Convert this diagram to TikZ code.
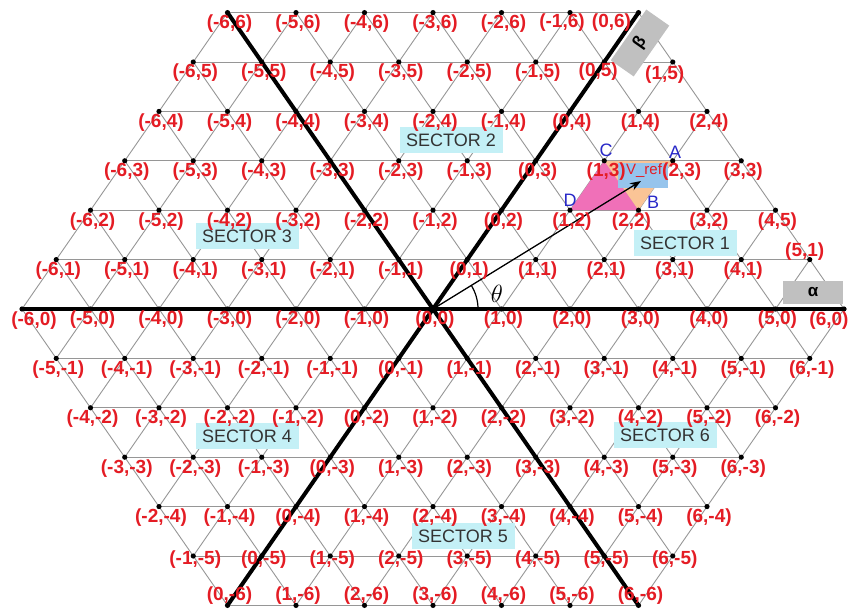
\documentclass[tikz,border=0pt]{standalone}
\usepackage{fontspec}
\setmainfont{Liberation Sans}
\usetikzlibrary{arrows.meta}
\definecolor{lblred}{RGB}{228,28,36}
\definecolor{gridgray}{RGB}{150,150,150}
\definecolor{sectorbg}{RGB}{196,240,246}
\definecolor{pinkfill}{RGB}{240,112,184}
\definecolor{orangefill}{RGB}{250,196,150}
\definecolor{vrefblue}{RGB}{150,196,236}
\definecolor{abcdblue}{RGB}{40,40,200}
\definecolor{boxgray}{RGB}{192,192,192}
% label offsets (dx,dy) in px, y downwards
\expandafter\def\csname lo@-6@0\endcsname{12,12}
\expandafter\def\csname lo@6@0\endcsname{-15,12}
\expandafter\def\csname lo@0@6\endcsname{-27,10}
\expandafter\def\csname lo@-1@6\endcsname{-8,10}
\expandafter\def\csname lo@0@5\endcsname{-6,10}
\expandafter\def\csname lo@1@5\endcsname{-8,13}
\expandafter\def\csname lo@5@1\endcsname{-5,-8}
\expandafter\def\csname lo@2@3\endcsname{9,11}
\expandafter\def\csname lo@2@2\endcsname{-7,11}
% label texts that differ
\expandafter\def\csname lt@4@2\endcsname{(4,5)}
\tikzset{
  gridline/.style={draw=gridgray, line width=0.9},
  axisline/.style={draw=black, line width=4, line cap=round},
  lbl/.style={text=lblred, font=\bfseries\fontsize{19}{20}\selectfont, inner sep=0},
  sector/.style={fill=sectorbg, text=black!80, font=\fontsize{18}{20}\selectfont,
    minimum width=103, minimum height=26, inner sep=0},
  axisbox/.style={fill=boxgray, text=black, font=\bfseries\fontsize{17}{18}\selectfont,
    inner sep=0},
  vlbl/.style={text=abcdblue, font=\fontsize{18}{20}\selectfont, inner sep=0},
}
\begin{document}
\begin{tikzpicture}[x=1pt,y=-1pt]
\useasboundingbox (0,0) rectangle (849,610);
% grid points
\foreach \b in {-6,...,6}{
  \pgfmathtruncatemacro\amin{max(-6,-6-\b)}
  \pgfmathtruncatemacro\amax{min(6,6-\b)}
  \foreach \a in {\amin,...,\amax}{
    \coordinate (p\a_\b) at ({433+(\a+\b/2)*68.5},{309-\b*49.4});
  }
}
% grid lines
\foreach \b in {-6,...,6}{
  \pgfmathtruncatemacro\amin{max(-6,-6-\b)}
  \pgfmathtruncatemacro\amax{min(6,6-\b)}
  \draw[gridline] (p\amin_\b) -- (p\amax_\b);
}
\foreach \a in {-6,...,6}{
  \pgfmathtruncatemacro\bmin{max(-6,-6-\a)}
  \pgfmathtruncatemacro\bmax{min(6,6-\a)}
  \draw[gridline] (p\a_\bmin) -- (p\a_\bmax);
}
\foreach \c in {-6,...,6}{
  \pgfmathtruncatemacro\amin{max(-6,\c-6)}
  \pgfmathtruncatemacro\amax{min(6,\c+6)}
  \pgfmathtruncatemacro\bA{\c-\amin}
  \pgfmathtruncatemacro\bB{\c-\amax}
  \draw[gridline] (p\amin_\bA) -- (p\amax_\bB);
}
% reference triangles
\fill[pinkfill] (p1_2) -- (p2_2) -- (p1_3) -- cycle;
\fill[orangefill] (p1_3) -- (p2_3) -- (p2_2) -- cycle;
\node[fill=vrefblue, minimum width=50, minimum height=25, inner sep=0] (vbox) at (643,175) {};
\node[text=lblred, font=\fontsize{15}{16}\selectfont, inner sep=0] (vtext) at (644,171) {V\_ref};
% axes
\draw[axisline] (p-6_0) -- (p6_0);
\draw[axisline] (p-6_6) -- (p6_-6);
\draw[axisline] (p0_-6) -- (p0_6);
% reference vector and angle
\coordinate (vref) at (641,181);
\draw[line width=1.3, -{Stealth[length=11pt,width=8pt]}] (p0_0) -- (vref);
\draw[line width=1.2] ([xshift=45]p0_0) arc[start angle=0, end angle=-31.7, radius=45];
\node[font=\fontsize{25}{26}\selectfont, inner sep=0] (theta) at (497,294) {$\theta$};
% dots
\foreach \b in {-6,...,6}{
  \pgfmathtruncatemacro\amin{max(-6,-6-\b)}
  \pgfmathtruncatemacro\amax{min(6,6-\b)}
  \foreach \a in {\amin,...,\amax}{
    \fill (p\a_\b) circle (2.6);
  }
}
% sector labels
\node[sector] (s1) at (685,243) {SECTOR 1};
\node[sector] (s2) at (451,140) {SECTOR 2};
\node[sector] (s3) at (247,236) {SECTOR 3};
\node[sector] (s4) at (247,436) {SECTOR 4};
\node[sector] (s5) at (463,536) {SECTOR 5};
\node[sector] (s6) at (665,435) {SECTOR 6};
% axis boxes
\node[axisbox, minimum width=60, minimum height=23] (alpha) at (813,292) {α};
\node[axisbox, minimum width=62, minimum height=28, rotate=55] (beta) at (640,43) {β};
% point labels
\foreach \b in {-6,...,6}{
  \pgfmathtruncatemacro\amin{max(-6,-6-\b)}
  \pgfmathtruncatemacro\amax{min(6,6-\b)}
  \ifnum\b=-6 \def\dy{-10}\else\ifnum\b=-5 \def\dy{4}\else\def\dy{11}\fi\fi
  \foreach \a in {\amin,...,\amax}{
    \ifcsname lo@\a@\b\endcsname
      \edef\off{\csname lo@\a@\b\endcsname}%
    \else
      \edef\off{2,\dy}%
    \fi
    \ifcsname lt@\a@\b\endcsname
      \edef\txt{\csname lt@\a@\b\endcsname}%
    \else
      \edef\txt{(\a,\b)}%
    \fi
    \node[lbl] (l\a_\b) at ([shift={(\off)}]p\a_\b) {\txt};
  }
}
% vertex letters
\node[vlbl] (lc) at (606,150) {C};
\node[vlbl] (la) at (675,152) {A};
\node[vlbl] (ld) at (570,200) {D};
\node[vlbl] (lb) at (653,202) {B};
\end{tikzpicture}
\end{document}
